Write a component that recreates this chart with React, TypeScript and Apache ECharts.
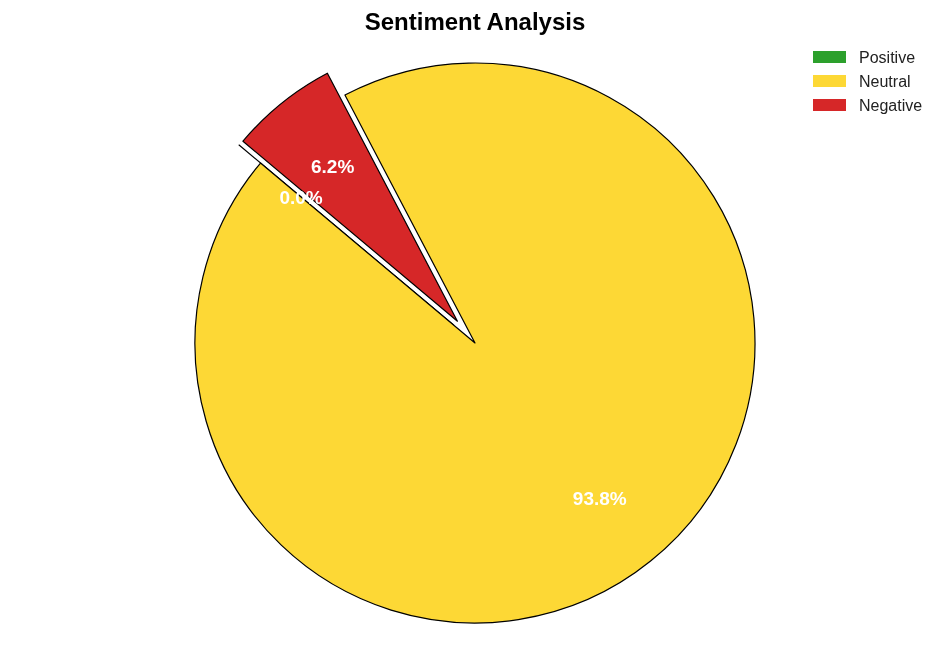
import React, { useEffect, useRef } from "react";
import * as echarts from "echarts";

const categories = ["Positive", "Neutral", "Negative"];
const values = [0, 93.8, 6.2];
const colors = ["#2ca02c", "#fdd835", "#d62728"];
const exploded = [true, false, true];

const FONT = "'Liberation Sans', Arial, sans-serif";

export default function App() {
  const ref = useRef<HTMLDivElement>(null);
  useEffect(() => {
    if (!ref.current) return;
    const chart = echarts.init(ref.current, undefined, { renderer: "svg" });
    const total = values.reduce((a, b) => a + b, 0);
    const pieData = categories.map((name, i) => ({
      name,
      value: values[i],
      selected: exploded[i],
      itemStyle: { color: colors[i] },
    }));
    chart.setOption({
      animation: false,
      title: {
        text: "Sentiment Analysis",
        left: "center",
        top: 3,
        textStyle: { fontFamily: FONT, fontSize: 24, fontWeight: "bold", color: "#000", lineHeight: 26 },
      },
      legend: {
        orient: "vertical",
        left: 808,
        top: 44,
        itemWidth: 33,
        itemHeight: 12,
        itemGap: 8,
        icon: "rect",
        data: categories,
        itemStyle: { borderWidth: 0 },
        textStyle: { fontFamily: FONT, fontSize: 16, lineHeight: 16, color: "#222", padding: [0, 0, 0, 8] },
        selectedMode: false,
      },
      series: [
        {
          type: "pie",
          center: [475, 343],
          radius: 280,
          startAngle: 140,
          clockwise: false,
          selectedMode: "multiple",
          selectedOffset: 28,
          label: { show: false },
          labelLine: { show: false },
          emphasis: { disabled: true },
          silent: true,
          itemStyle: { borderColor: "#000", borderWidth: 1.2 },
          data: pieData,
        },
        {
          type: "pie",
          center: [475, 343],
          radius: 392,
          startAngle: 140,
          clockwise: false,
          selectedMode: "multiple",
          selectedOffset: 28,
          silent: true,
          emphasis: { disabled: true },
          legendHoverLink: false,
          itemStyle: { color: "rgba(0,0,0,0)", borderWidth: 0 },
          label: {
            show: true,
            position: "inside",
            fontFamily: FONT,
            fontSize: 19,
            fontWeight: "bold",
            color: "#fff",
            formatter: (p: any) => ((values[p.dataIndex] / total) * 100).toFixed(1) + "%",
          },
          labelLine: { show: false },
          data: categories.map((name, i) => ({ name: name + " ", value: values[i], selected: exploded[i] })),
        },
      ],
    });
    return () => chart.dispose();
  }, []);
  return <div ref={ref} style={{ position: "fixed", left: 0, top: 0, width: 950, height: 662 }} />;
}
